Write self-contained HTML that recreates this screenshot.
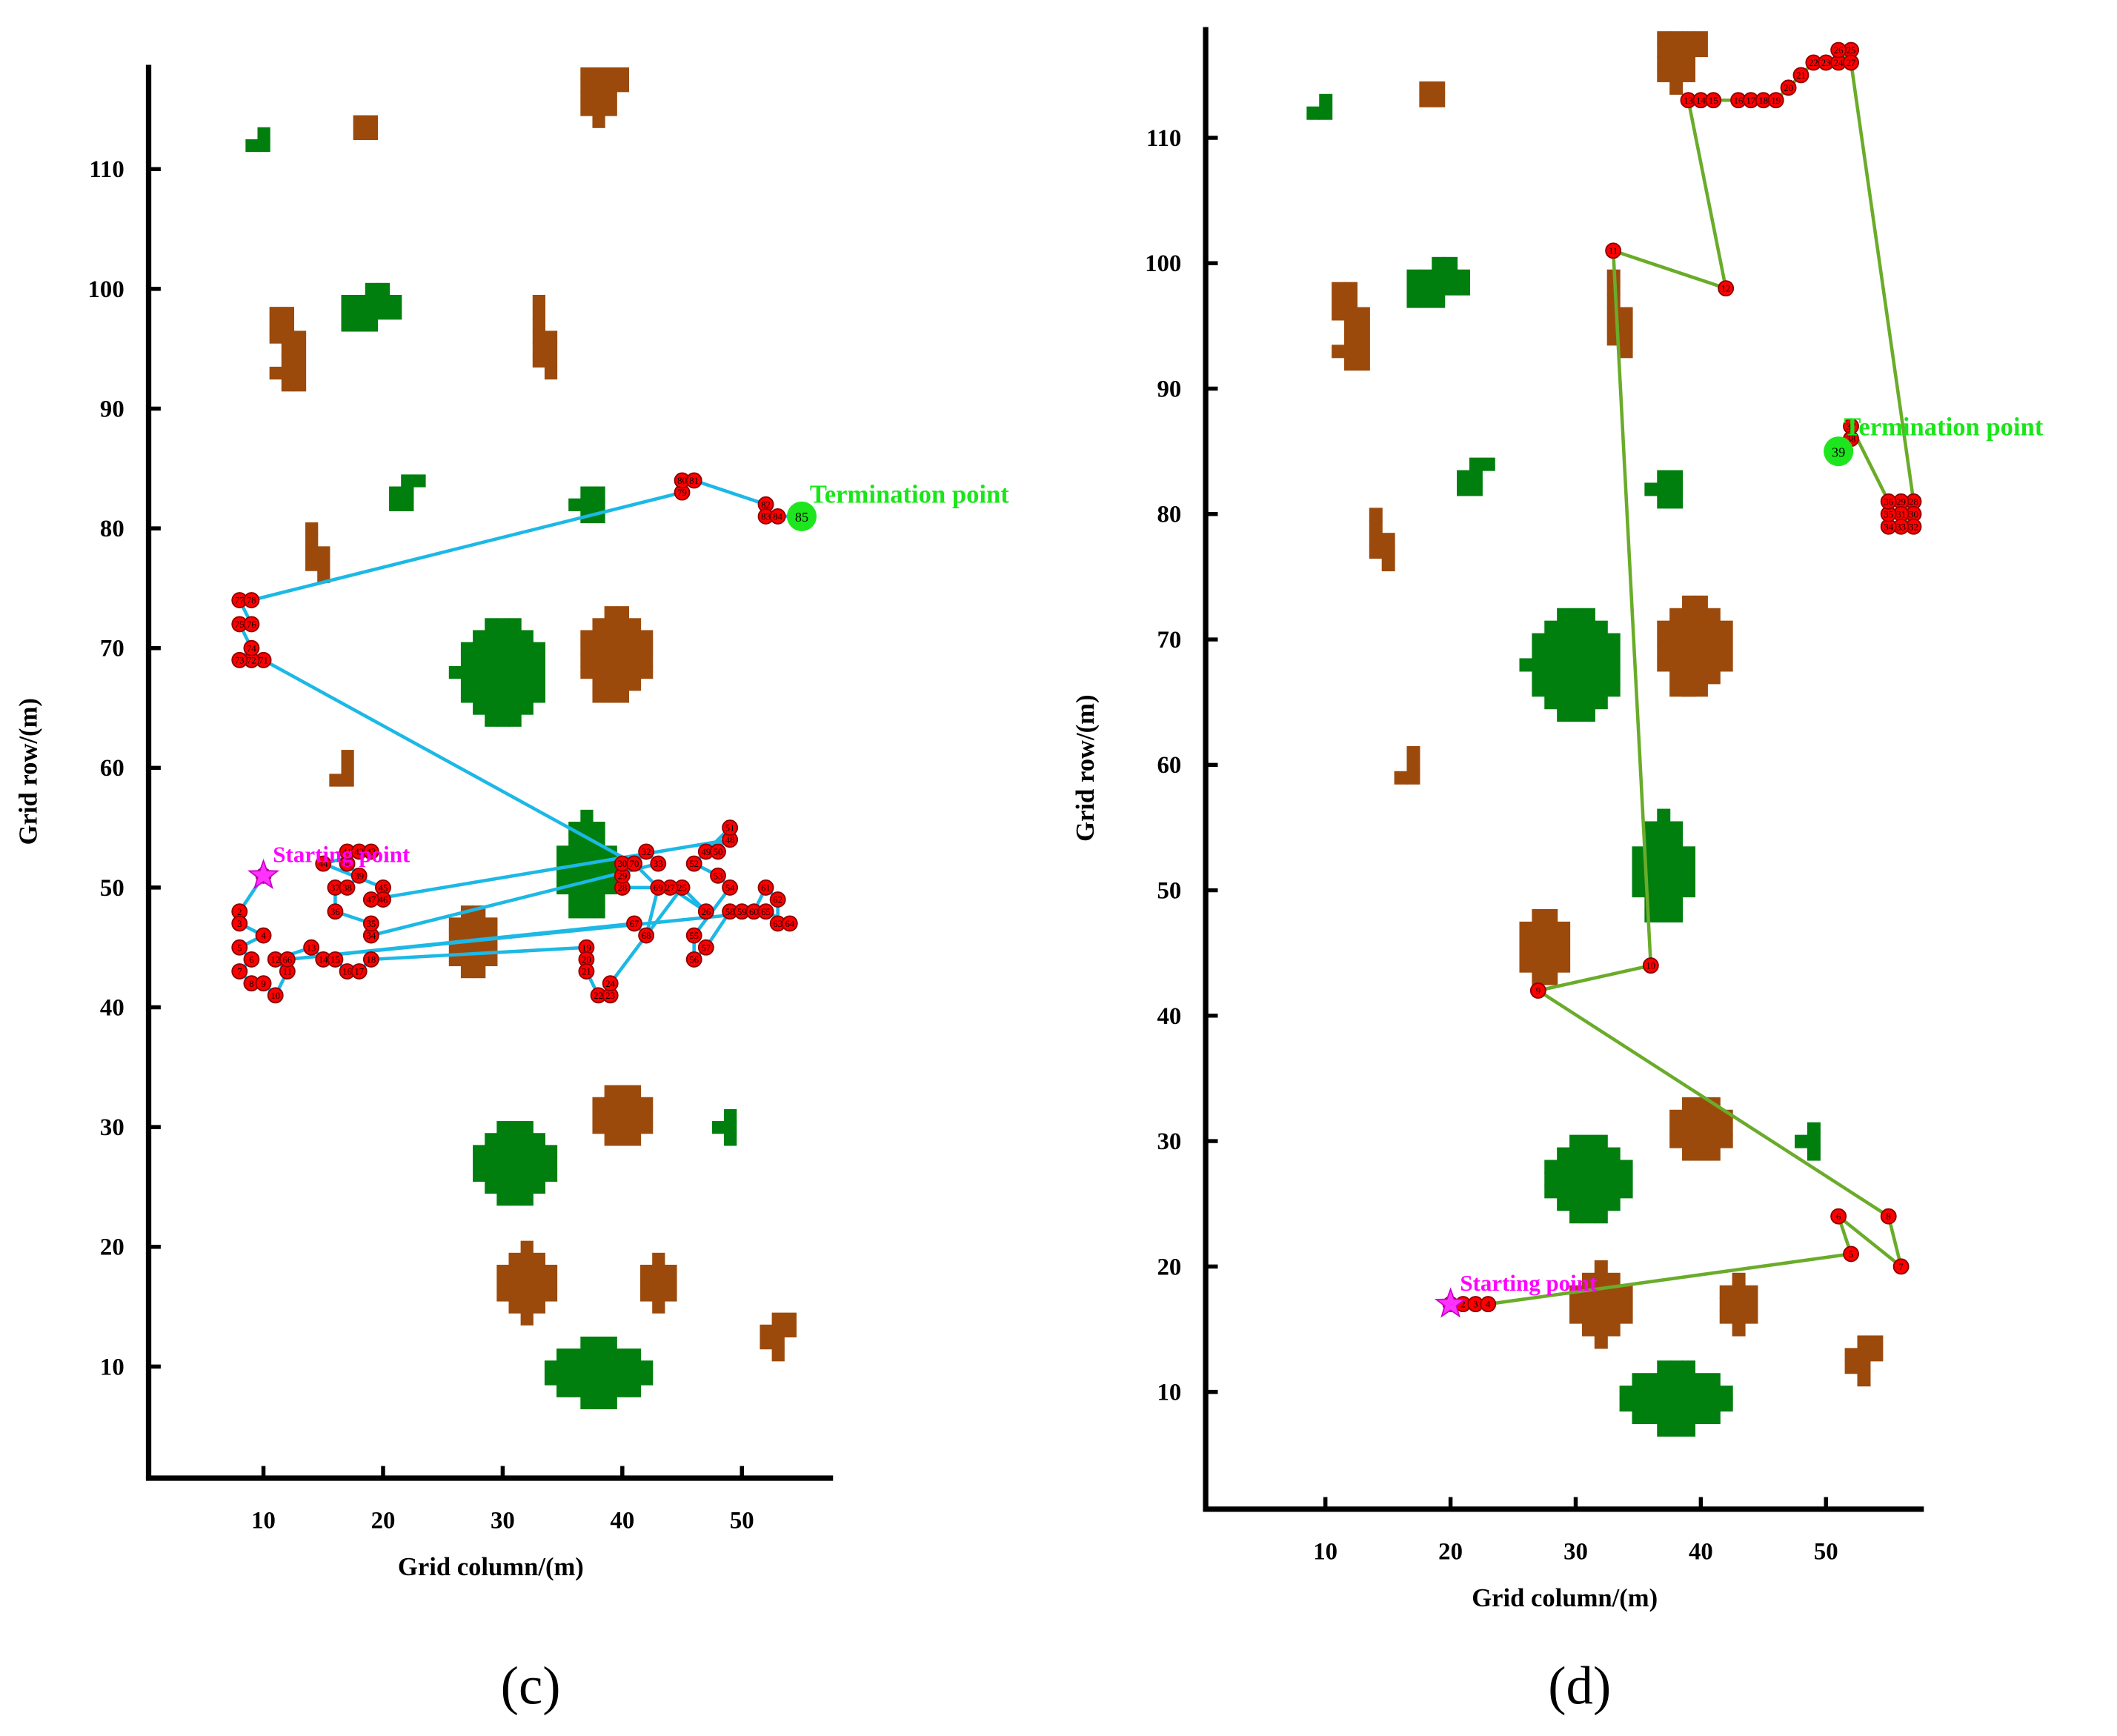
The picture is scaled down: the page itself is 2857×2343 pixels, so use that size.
<!DOCTYPE html>
<html><head><meta charset="utf-8"><style>
html,body{margin:0;padding:0;background:#fff}
svg{display:block}
text{font-family:"Liberation Serif",serif;font-weight:bold}
text.plain{font-weight:normal}
</style></head><body>
<svg id="chart" width="2857" height="2343" viewBox="0 0 1568 1286" xmlns="http://www.w3.org/2000/svg"></svg>
<script>
const xTicks=[10,20,30,40,50];
const yTicks=[10,20,30,40,50,60,70,80,90,100,110];
// obstacles: type, cx, cy, rx, ry (ellipses in grid cells)
const obstacleEllipses=[
 ['g',30,68,3.6,4.2],['g',37,51.5,2.3,4.3],['g',31,27,3.3,3.3],['g',38,9.5,4.2,2.8],
 ['b',39.5,69.5,3.3,3.6],['b',27.5,45.5,1.8,3.5],['b',32,17,2.2,3],['b',40,31,2.3,2.5],['b',43,17,1.5,2]
];
// obstacles: type, x1, y1, x2, y2 (cell rectangles)
const obstacleRects=[
 ['g',9,112,10,112],['g',10,113,10,113],['g',17,97,19,99],['g',19,100,20,100],['g',20,98,21,99],
 ['g',21,82,22,83],['g',22,84,23,84],['g',37,81,38,83],['g',36,82,36,82],['g',49,29,49,31],['g',48,30,48,30],['g',26,68,26,68],['g',37,56,37,56],
 ['b',37,115,39,118],['b',40,117,40,118],['b',38,114,38,114],['b',18,113,19,114],['b',11,96,12,98],['b',12,92,13,96],['b',11,93,11,93],
 ['b',33,94,33,99],['b',34,93,34,96],['b',14,77,14,80],['b',15,76,15,78],['b',17,59,17,61],['b',16,59,16,59],
 ['b',53,11,53,14],['b',52,12,52,13],['b',54,13,54,14],['b',38,66,39,66]
];
const pathC=[[10,51],[8,48],[8,47],[10,46],[8,45],[9,44],[8,43],[9,42],[10,42],[11,41],[12,43],[11,44],[14,45],[15,44],[16,44],[17,43],[18,43],[19,44],[37,45],[37,44],[37,43],[38,41],[39,41],[39,42],[45,50],[47,48],[44,50],[40,50],[40,51],[40,52],[41,52],[42,53],[43,52],[19,46],[19,47],[16,48],[16,50],[17,50],[18,51],[17,52],[17,53],[18,53],[19,53],[15,52],[20,50],[20,49],[19,49],[49,54],[47,53],[48,53],[49,55],[46,52],[48,51],[49,50],[46,46],[46,44],[47,45],[49,48],[50,48],[51,48],[52,50],[53,49],[53,47],[54,47],[52,48],[12,44],[41,47],[42,46],[43,50],[41,52],[10,69],[9,69],[8,69],[9,70],[8,72],[9,72],[8,74],[9,74],[45,83],[45,84],[46,84],[52,82],[52,81],[53,81]];
const endC=[55,81], startC=[10,51];
const pathD=[[20,17],[21,17],[22,17],[23,17],[52,21],[51,24],[56,20],[55,24],[27,42],[36,44],[33,101],[42,98],[39,113],[40,113],[41,113],[43,113],[44,113],[45,113],[46,113],[47,114],[48,115],[49,116],[50,116],[51,116],[52,117],[51,117],[52,116],[57,81],[56,81],[57,80],[56,80],[57,79],[56,79],[55,79],[55,80],[55,81],[52,87],[52,86]];
const endD=[51,85], startD=[20,17];

const svg=document.getElementById('chart');
const NS='http://www.w3.org/2000/svg';
function mk(tag,attrs,parent){const e=document.createElementNS(NS,tag);for(const k in attrs)e.setAttribute(k,attrs[k]);(parent||svg).appendChild(e);return e;}

function panel(P){
 const g=mk('g',{});
 
 
 const X=v=>P.x0+v*P.sx, Y=v=>P.y0-v*P.sy;
 const col={g:'#007f0e',b:'#9b4a0c'};
 const cells=(t,c,r)=>{const e=mk('rect',{x:X(c-0.5),y:Y(r+0.5),width:P.sx+0.6,height:P.sy+0.6,fill:col[t]},g);
  
  };
 obstacleEllipses.forEach(o=>{for(let c=Math.floor(o[1]-o[3]);c<=Math.ceil(o[1]+o[3]);c++)for(let r=Math.floor(o[2]-o[4]);r<=Math.ceil(o[2]+o[4]);r++){const dx=(c-o[1])/o[3],dy=(r-o[2])/o[4];if(dx*dx+dy*dy<=1)cells(o[0],c,r);}});
 obstacleRects.forEach(o=>{for(let c=o[1];c<=o[3];c++)for(let r=o[2];r<=o[4];r++)cells(o[0],c,r);});
 const ax=mk('path',{d:`M${P.ax} ${P.top} V${P.ay} H${P.right}`,stroke:'#000','stroke-width':4,fill:'none'},g);
 
 xTicks.forEach(t=>{mk('line',{x1:X(t),x2:X(t),y1:P.ay,y2:P.ay-9,stroke:'#000','stroke-width':3},g);
  const e=mk('text',{x:X(t),y:P.ay+37,'text-anchor':'middle','font-size':18},g);e.textContent=t;
  });
 yTicks.forEach(t=>{mk('line',{x1:P.ax,x2:P.ax+9,y1:Y(t),y2:Y(t),stroke:'#000','stroke-width':3},g);
  const e=mk('text',{x:P.ax-18,y:Y(t)+6,'text-anchor':'end','font-size':18},g);e.textContent=t;
  });
 let e=mk('text',{x:(P.ax+P.right)/2,y:P.ay+72,'text-anchor':'middle','font-size':19},g);e.textContent='Grid column/(m)';
 
 const cy=(P.top+P.ay)/2;
 e=mk('text',{x:P.ax-83,y:cy,'text-anchor':'middle','font-size':19,transform:`rotate(-90 ${P.ax-83} ${cy})`},g);e.textContent='Grid row/(m)';
 
 const pts=P.path.map(p=>X(p[0])+','+Y(p[1])).join(' ')+' '+X(P.end[0])+','+Y(P.end[1]);
 e=mk('polyline',{points:X(P.start[0])+','+Y(P.start[1])+' '+pts,fill:'none',stroke:P.lc,'stroke-width':2.5},g);
 
 P.path.forEach((p,i)=>{const c=mk('circle',{cx:X(p[0]),cy:Y(p[1]),r:5.5,fill:'#ff0000',stroke:'#8a0000','stroke-width':1},g);
  
  const t=mk('text',{x:X(p[0]),y:Y(p[1])+2.5,'text-anchor':'middle','font-size':7,class:'plain'},g);t.textContent=i+1;});
 e=mk('circle',{cx:X(P.end[0]),cy:Y(P.end[1]),r:11,fill:'#1ee61e'},g);
 
 e=mk('text',{x:X(P.end[0]),y:Y(P.end[1])+4,'text-anchor':'middle','font-size':10,class:'plain'},g);e.textContent=P.path.length+1;
 e=mk('text',{x:X(P.end[0])+P.tdx,y:Y(P.end[1])+P.tdy,'font-size':19,fill:'#19e619'},g);e.textContent='Termination point';
 
 const sx=X(P.start[0]),sy=Y(P.start[1]);let d='';
 for(let i=0;i<10;i++){const r=i%2?4.5:11,a=-Math.PI/2+i*Math.PI/5;d+=(i?'L':'M')+(sx+r*Math.cos(a))+' '+(sy+r*Math.sin(a));}
 e=mk('path',{d:d+'Z',fill:'#ff33ff',stroke:'#cc00cc','stroke-width':1},g);
 
 e=mk('text',{x:sx+7,y:sy-10,'font-size':17,fill:'#ff00ff'},g);e.textContent='Starting point';
 
 e=mk('text',{x:P.lx,y:1262,'text-anchor':'middle','font-size':40,class:'plain'},g);e.textContent=P.label;
 
}
panel({name:'panel-c',x0:106.5,sx:8.86,y0:1101,sy:8.87,ax:110,ay:1095,top:48,right:617,path:pathC,start:startC,end:endC,lc:'#1cb8e6',tdx:6,tdy:-10,label:'(c)',lx:393});
panel({name:'panel-d',x0:889,sx:9.27,y0:1124,sy:9.29,ax:893,ay:1118,top:20,right:1425,path:pathD,start:startD,end:endD,lc:'#6aac2a',tdx:4,tdy:-12,label:'(d)',lx:1170});
</script>
</body></html>
